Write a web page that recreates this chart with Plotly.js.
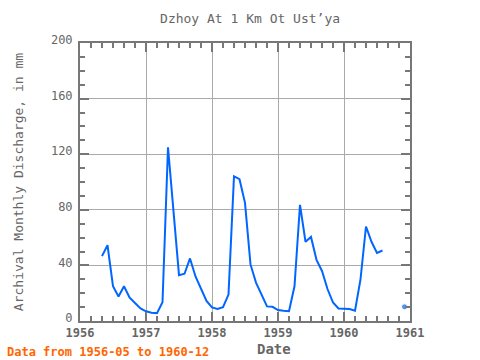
<!DOCTYPE html>
<html><head><meta charset="utf-8">
<script src="https://cdn.plot.ly/plotly-3.0.1.min.js"></script>
<style>html,body{margin:0;padding:0;background:#fff}#c{width:480px;height:360px}</style>
</head><body><div id="c"></div>
<script>
const months = ["1956-05","1956-06","1956-07","1956-08","1956-09","1956-10","1956-11","1956-12",
"1957-01","1957-02","1957-03","1957-04","1957-05","1957-06","1957-07","1957-08","1957-09","1957-10","1957-11","1957-12",
"1958-01","1958-02","1958-03","1958-04","1958-05","1958-06","1958-07","1958-08","1958-09","1958-10","1958-11","1958-12",
"1959-01","1959-02","1959-03","1959-04","1959-05","1959-06","1959-07","1959-08","1959-09","1959-10","1959-11","1959-12",
"1960-01","1960-02","1960-03","1960-04","1960-05","1960-06","1960-07","1960-08","1960-09","1960-10","1960-11","1960-12"];
const discharge = [46.7,54.5,25,17.6,25,17,13,9,
7,6,5.7,13.5,125,80,33,34,45,32,23,14.5,
9.8,8.6,10,19,104,102,85,40.7,27.6,19,10.5,10.2,
7.9,7.4,7,25,83.6,57,60.5,44,36,23,13.3,9,
9,8.6,7.4,30,68,57,49,50.7,null,null,null,10.2];
const xTicks = [1956,1957,1958,1959,1960,1961];
const yTicks = [0,40,80,120,160,200];

const xs = months.map(m => { const [y, mo] = m.split("-").map(Number); return y + (mo - 1) / 12; });
const sizes = discharge.map((v, i) => {
  if (v === null) return 0;
  const prev = i > 0 ? discharge[i-1] : null, next = i < discharge.length-1 ? discharge[i+1] : null;
  return (prev === null && next === null) ? 6 : 0;
});

const font = "DejaVu Sans Mono, monospace";
const gray = "#666";
Plotly.newPlot("c", [{
  x: xs, y: discharge, type: "scatter", mode: "lines+markers",
  line: {color: "#0066ff", width: 2}, marker: {color: "#0066ff", size: sizes},
  connectgaps: false, hoverinfo: "none"
}], {
  width: 480, height: 360,
  margin: {l: 80, r: 70, t: 43, b: 39},
  paper_bgcolor: "#fff", plot_bgcolor: "#fff",
  showlegend: false,
  title: {text: "Dzhoy At 1 Km Ot Ust\u2019ya", xref: "container", x: 0.521, xanchor: "center", y: 0.95, yanchor: "middle",
          font: {family: font, size: 13, color: gray}},
  xaxis: {range: [1956, 1961], tickvals: xTicks, ticktext: xTicks.map(String),
          showgrid: true, gridcolor: "#aaa", gridwidth: 1, zeroline: false,
          showline: true, linecolor: "#777", linewidth: 2, mirror: "ticks",
          ticks: "inside", ticklen: 9, tickwidth: 2, tickcolor: "#777",
          minor: {dtick: 1/6, tick0: 1956, ticks: "inside", ticklen: 5, tickwidth: 2, tickcolor: "#777", showgrid: false},
          tickfont: {family: font, size: 12, color: gray, weight: "bold"}},
  yaxis: {range: [0, 200], tickvals: yTicks, ticktext: yTicks.map(String),
          showgrid: true, gridcolor: "#aaa", gridwidth: 1, zeroline: false,
          showline: true, linecolor: "#777", linewidth: 2, mirror: "ticks",
          ticks: "inside", ticklen: 9, tickwidth: 2, tickcolor: "#777",
          ticklabelstandoff: 3, ticklabelshift: -3,
          minor: {dtick: 10, ticks: "inside", ticklen: 5, tickwidth: 2, tickcolor: "#777", showgrid: false},
          tickfont: {family: font, size: 12, color: gray},
          title: {text: "Archival Monthly Discharge, in mm", font: {family: font, size: 13, color: gray}, standoff: 24}},
  annotations: [
    {text: "Date", xref: "paper", yref: "paper", x: (274-80)/330, y: -(349-321)/278,
     xanchor: "center", yanchor: "middle", showarrow: false,
     font: {family: font, size: 14, color: gray, weight: "bold"}},
    {text: "Data from 1956-05 to 1960-12", xref: "paper", yref: "paper",
     x: -75/330, y: -(352-321)/278, xanchor: "left", yanchor: "middle", showarrow: false,
     font: {family: font, size: 12, color: "#ff6600", weight: "bold"}}]
}, {staticPlot: true});
</script></body></html>
